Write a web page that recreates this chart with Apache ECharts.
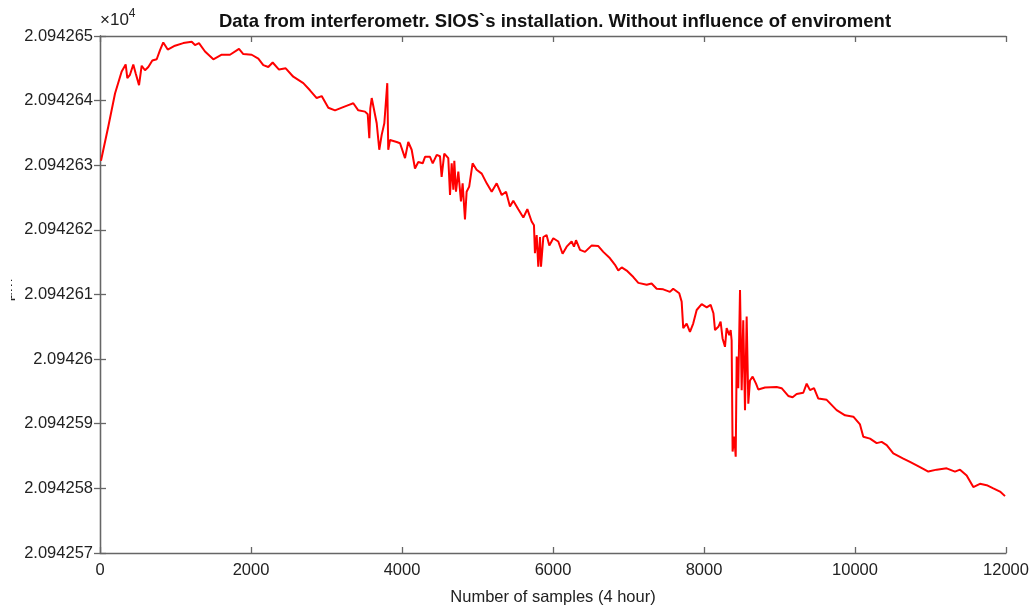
<!DOCTYPE html>
<html>
<head>
<meta charset="utf-8">
<script src="https://cdn.jsdelivr.net/npm/echarts@6/dist/echarts.min.js"></script>
<style>html,body{margin:0;padding:0;background:#fff;overflow:hidden}#c{width:1036px;height:605px}</style>
</head>
<body>
<div id="c"></div>
<script>
const titleText = "Data from interferometr. SIOS`s installation. Without influence of enviroment";
const xAxisName = "Number of samples (4 hour)";
const yAxisName = "μm";
const xTicks = [0, 2000, 4000, 6000, 8000, 10000, 12000];
const yTicks = [2.094257, 2.094258, 2.094259, 2.09426, 2.094261, 2.094262, 2.094263, 2.094264, 2.094265];

const sampleIdx = [
13,110,199,287,340,362,397,441,473,517,552,596,640,693,751,795,838,897,993,1103,
1215,1258,1311,1391,1501,1612,1722,1841,1898,2009,2097,2163,2229,2287,2371,2460,2560,2693,2781,2870,
2936,3024,3113,3179,3289,3355,3421,3510,3546,3567,3580,3599,3665,3699,3731,3766,3792,3805,3818,3841,
3930,3974,4040,4083,4128,4172,4216,4274,4305,4371,4407,4460,4503,4525,4560,4613,4636,4658,4680,4693,
4715,4746,4781,4803,4834,4856,4890,4935,4988,5056,5122,5188,5254,5321,5378,5430,5474,5540,5607,5660,
5717,5748,5761,5784,5805,5828,5841,5872,5915,5951,6004,6070,6127,6181,6247,6278,6305,6358,6424,6513,
6600,6666,6755,6821,6865,6910,6976,7064,7130,7241,7306,7373,7460,7549,7592,7672,7704,7725,7770,7814,
7857,7903,7969,8036,8088,8125,8146,8190,8220,8246,8278,8300,8335,8353,8366,8379,8401,8420,8433,8454,
8477,8499,8520,8543,8565,8587,8609,8644,8689,8719,8808,8962,9028,9116,9174,9227,9315,9360,9404,9457,
9514,9625,9757,9868,9978,10066,10110,10199,10287,10353,10420,10507,10640,10728,10861,10971,11082,11214,11324,11391,
11479,11567,11655,11744,11832,11921,11987
];

const measured = [
2.09426307,2.09426360,2.09426411,2.09426445,2.09426456,2.09426435,2.09426440,2.09426456,2.09426442,2.09426424,
2.09426454,2.09426447,2.09426452,2.09426462,2.09426464,2.09426478,2.09426490,2.09426479,2.09426485,2.09426489,
2.09426491,2.09426486,2.09426489,2.09426476,2.09426464,2.09426471,2.09426471,2.09426480,2.09426472,2.09426471,
2.09426465,2.09426455,2.09426452,2.09426459,2.09426448,2.09426450,2.09426437,2.09426427,2.09426416,2.09426404,
2.09426407,2.09426389,2.09426385,2.09426388,2.09426393,2.09426396,2.09426385,2.09426383,2.09426379,2.09426342,
2.09426388,2.09426404,2.09426365,2.09426324,2.09426347,2.09426365,2.09426362,2.09426427,2.09426324,2.09426339,
2.09426336,2.09426334,2.09426311,2.09426336,2.09426324,2.09426295,2.09426305,2.09426303,2.09426313,2.09426313,
2.09426303,2.09426316,2.09426314,2.09426282,2.09426318,2.09426311,2.09426254,2.09426303,2.09426262,2.09426307,
2.09426259,2.09426290,2.09426244,2.09426272,2.09426216,2.09426259,2.09426267,2.09426303,2.09426293,2.09426287,
2.09426272,2.09426259,2.09426272,2.09426254,2.09426259,2.09426236,2.09426245,2.09426232,2.09426219,2.09426232,
2.09426213,2.09426207,2.09426164,2.09426192,2.09426143,2.09426189,2.09426143,2.09426189,2.09426192,2.09426176,
2.09426187,2.09426182,2.09426163,2.09426174,2.09426182,2.09426174,2.09426184,2.09426169,2.09426166,2.09426176,
2.09426175,2.09426166,2.09426156,2.09426146,2.09426137,2.09426142,2.09426137,2.09426127,2.09426118,2.09426115,
2.09426117,2.09426109,2.09426108,2.09426104,2.09426109,2.09426102,2.09426089,2.09426048,2.09426055,2.09426042,
2.09426055,2.09426076,2.09426085,2.09426080,2.09426084,2.09426071,2.09426045,2.09426050,2.09426058,2.09426032,
2.09426019,2.09426048,2.09426037,2.09426045,2.09426029,2.09425857,2.09425880,2.09425849,2.09426004,2.09425955,
2.09426107,2.09425952,2.09426060,2.09425921,2.09426066,2.09425931,2.09425967,2.09425973,2.09425962,2.09425953,
2.09425956,2.09425957,2.09425955,2.09425943,2.09425941,2.09425946,2.09425948,2.09425962,2.09425952,2.09425955,
2.09425939,2.09425937,2.09425921,2.09425913,2.09425911,2.09425899,2.09425880,2.09425877,2.09425870,2.09425872,
2.09425867,2.09425854,2.09425846,2.09425841,2.09425833,2.09425826,2.09425829,2.09425831,2.09425826,2.09425829,
2.09425820,2.09425802,2.09425807,2.09425805,2.09425800,2.09425795,2.09425788
];

const chart = echarts.init(document.getElementById('c'), null, {renderer: 'canvas'});
const FONT = '"Liberation Sans", Arial, Helvetica, sans-serif';
const AX = '#666';
const LBL = '#222';
const seriesData = sampleIdx.map((x, i) => [x, measured[i]]);
const yMin = yTicks[0], yMax = yTicks[yTicks.length - 1];
const yStep = Math.round((yTicks[1] - yTicks[0]) * 1e9) / 1e9;
const xStep = xTicks[1] - xTicks[0];

function yFmt(v) { return String(parseFloat(v.toFixed(6))); }
function xFmt(v) { return String(Math.round(v)); }

const baseX = {
  type: 'value', min: xTicks[0], max: xTicks[xTicks.length - 1], interval: xStep,
  axisLine: {show: true, lineStyle: {color: AX, width: 1.3}},
  axisTick: {show: true, inside: true, length: 6, lineStyle: {color: AX, width: 1.3}},
  splitLine: {show: false}
};
const baseY = {
  type: 'value', min: yMin, max: yMax, interval: yStep,
  axisLine: {show: true, lineStyle: {color: AX, width: 1.3}},
  axisTick: {show: true, inside: true, length: 6, lineStyle: {color: AX, width: 1.3}},
  splitLine: {show: false}
};

chart.setOption({
  animation: false,
  backgroundColor: '#fff',
  title: {
    text: titleText, left: 550, top: 7, textAlign: 'center',
    textStyle: {fontFamily: FONT, fontSize: 18.5, fontWeight: 'bold', color: '#111'}
  },
  grid: {left: 100, width: 906, top: 36, height: 517, containLabel: false, outerBoundsMode: 'none'},
  xAxis: [
    Object.assign({}, baseX, {
      position: 'bottom',
      axisLabel: {show: true, margin: 9, fontFamily: FONT, fontSize: 16.5, color: LBL, formatter: xFmt},
      name: xAxisName, nameLocation: 'middle', nameGap: 36,
      nameTextStyle: {fontFamily: FONT, fontSize: 16.5, color: LBL}
    }),
    Object.assign({}, baseX, {position: 'top', axisLabel: {show: false}})
  ],
  yAxis: [
    Object.assign({}, baseY, {
      position: 'left',
      axisLabel: {show: true, margin: 7, fontFamily: FONT, fontSize: 16.5, color: LBL, formatter: yFmt}
    }),
    Object.assign({}, baseY, {position: 'right', axisLabel: {show: false}})
  ],
  graphic: [
    {
      type: 'text', left: 100, top: 8, z: 10,
      style: {
        text: '{a|×10}{b|4}',
        rich: {
          a: {fontFamily: FONT, fontSize: 17, fill: LBL, padding: [4, 0, 0, 0]},
          b: {fontFamily: FONT, fontSize: 12, fill: LBL, verticalAlign: 'top', padding: [0, 0, 8, 0]}
        }
      }
    },
    {
      type: 'text', x: 16, y: 290, rotation: Math.PI / 2, z: 10,
      style: {text: yAxisName, fontFamily: FONT, fontSize: 16, fill: LBL, align: 'center', verticalAlign: 'bottom'}
    },
    {
      type: 'rect', shape: {x: 0, y: 260, width: 11, height: 60}, z: 11,
      style: {fill: '#fff'}
    }
  ],
  series: [{
    type: 'line', data: seriesData, xAxisIndex: 0, yAxisIndex: 0,
    showSymbol: false, symbol: 'none',
    lineStyle: {color: '#ff0000', width: 2},
    emphasis: {disabled: true}
  }]
});
</script>
</body>
</html>
